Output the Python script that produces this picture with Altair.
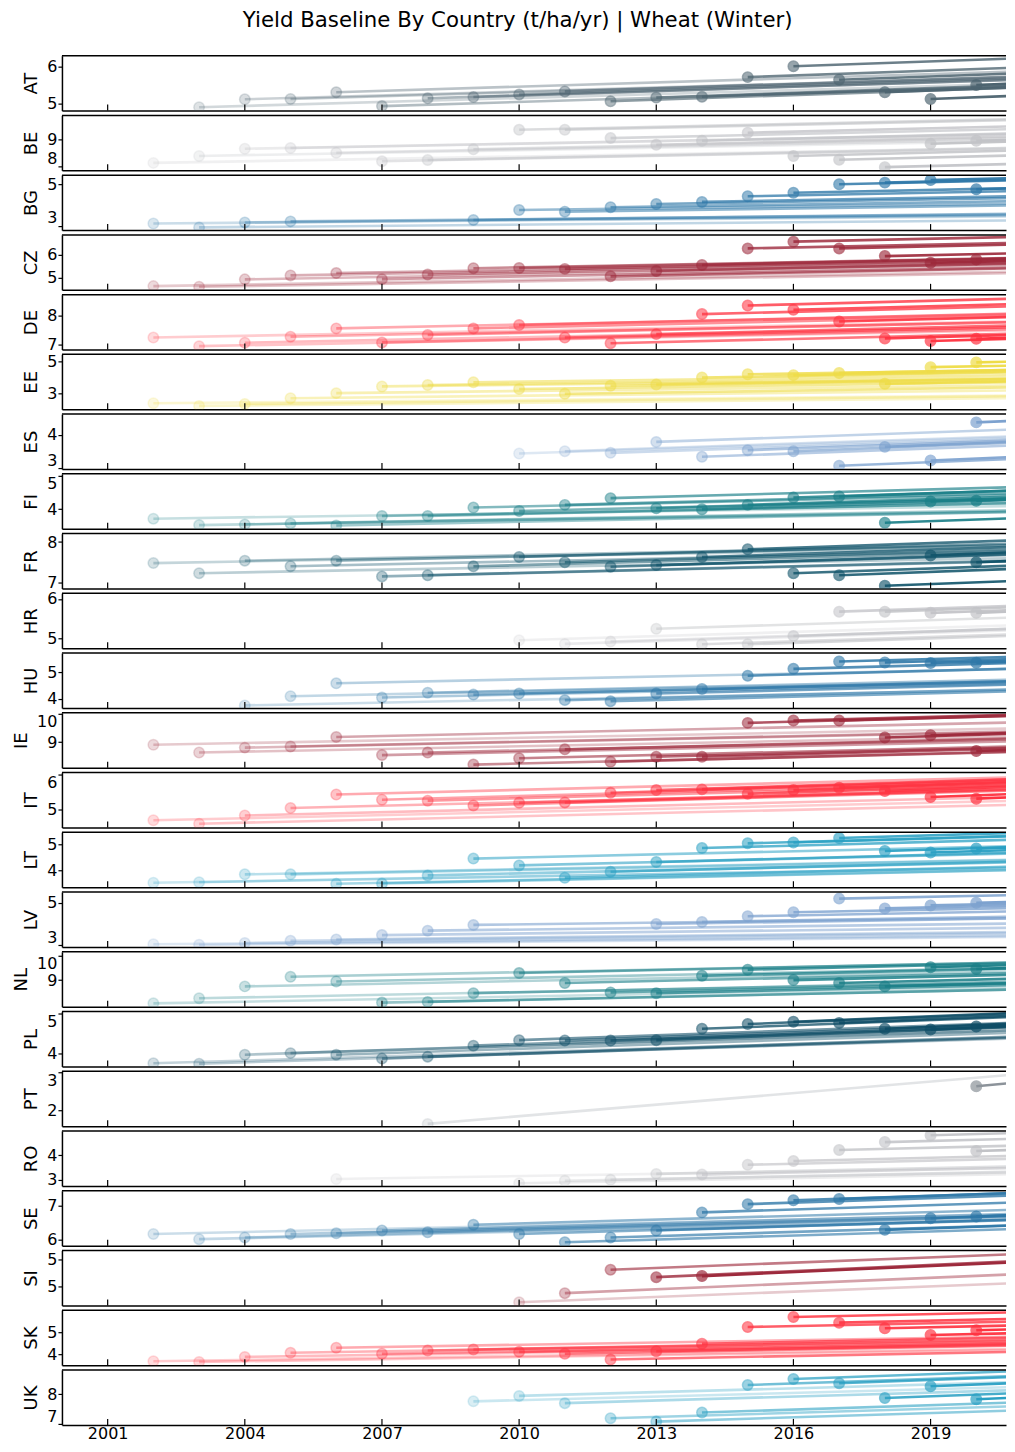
import altair as alt
import pandas as pd

TITLE = "Yield Baseline By Country (t/ha/yr) | Wheat (Winter)"
COUNTRIES = ["AT", "BE", "BG", "CZ", "DE", "EE", "ES", "FI", "FR", "HR", "HU", "IE",
             "IT", "LT", "LV", "NL", "PL", "PT", "RO", "SE", "SI", "SK", "UK"]
X_TICKS = [2001, 2004, 2007, 2010, 2013, 2016, 2019]
ALL_YEARS = list(range(2002, 2021))

COLORS = {
    "AT": "#4d6470", "BE": "#c2c3c7", "BG": "#2f78a8", "CZ": "#9d2a3c", "DE": "#ff3341",
    "EE": "#eedc48", "ES": "#7da2cf", "FI": "#1b7f88", "FR": "#14566c", "HR": "#c2c3c7",
    "HU": "#2f78a8", "IE": "#9d2a3c", "IT": "#ff3341", "LT": "#2aa0c3", "LV": "#7da2cf",
    "NL": "#1b7f88", "PL": "#0f4d66", "PT": "#8c939a", "RO": "#c2c3c7", "SE": "#2f78a8",
    "SI": "#9d2a3c", "SK": "#ff3341", "UK": "#2aa0c3",
}

YEARS = {
    "AT": list(range(2003, 2021)),
    "BE": ALL_YEARS,
    "BG": [2002, 2003, 2004, 2005, 2009, 2010, 2011, 2012, 2013, 2014, 2015, 2016, 2017, 2018, 2019, 2020],
    "CZ": ALL_YEARS, "DE": ALL_YEARS, "EE": ALL_YEARS,
    "ES": list(range(2010, 2021)),
    "FI": ALL_YEARS, "FR": ALL_YEARS,
    "HR": list(range(2010, 2021)),
    "HU": list(range(2004, 2021)),
    "IE": ALL_YEARS, "IT": ALL_YEARS, "LT": ALL_YEARS,
    "LV": [2002, 2003, 2004, 2005, 2006, 2007, 2008, 2009, 2013, 2014, 2015, 2016, 2017, 2018, 2019, 2020],
    "NL": ALL_YEARS, "PL": ALL_YEARS,
    "PT": [2008, 2020],
    "RO": [2006, 2010, 2011, 2012, 2013, 2014, 2015, 2016, 2017, 2018, 2019, 2020],
    "SE": ALL_YEARS,
    "SI": [2010, 2011, 2012, 2013, 2014],
    "SK": ALL_YEARS,
    "UK": list(range(2009, 2021)),
}

VALUES = {
    "AT": [4.91, 5.12, 5.13, 5.31, 4.94, 5.15, 5.18, 5.25, 5.33, 5.07, 5.17, 5.19, 5.71, 6.0, 5.64, 5.31, 5.13, 5.50],
    "BE": [8.12, 8.38, 8.65, 8.68, 8.5, 8.18, 8.23, 8.63, 9.36, 9.36, 9.05, 8.8, 8.95, 9.25, 8.38, 8.24, 7.96, 8.84, 8.95],
    "BG": [3.11, 2.92, 3.16, 3.21, 3.28, 3.76, 3.68, 3.89, 4.05, 4.15, 4.42, 4.59, 5.0, 5.08, 5.2, 4.76],
    "CZ": [4.64, 4.61, 4.93, 5.10, 5.20, 4.94, 5.14, 5.41, 5.42, 5.38, 5.06, 5.29, 5.55, 6.26, 6.55, 6.26, 5.93, 5.64, 5.78],
    "DE": [7.24, 6.94, 7.06, 7.27, 7.56, 7.07, 7.33, 7.56, 7.68, 7.24, 7.04, 7.36, 8.06, 8.36, 8.21, 7.8, 7.21, 7.12, 7.2],
    "EE": [2.42, 2.26, 2.38, 2.73, 3.04, 3.45, 3.54, 3.70, 3.29, 3.0, 3.49, 3.57, 4.0, 4.19, 4.14, 4.27, 3.61, 4.63, 4.92],
    "ES": [3.44, 3.51, 3.46, 3.79, 3.34, 3.54, 3.51, 3.07, 3.64, 3.23, 4.38],
    "FI": [3.72, 3.53, 3.55, 3.58, 3.52, 3.8, 3.8, 4.05, 3.95, 4.13, 4.33, 4.03, 4.0, 4.13, 4.35, 4.38, 3.6, 4.23, 4.25],
    "FR": [7.48, 7.23, 7.54, 7.4, 7.54, 7.15, 7.18, 7.4, 7.63, 7.5, 7.39, 7.43, 7.63, 7.82, 7.23, 7.18, 6.92, 7.67, 7.5],
    "HR": [4.96, 4.87, 4.93, 5.25, 4.86, 4.86, 5.07, 5.68, 5.68, 5.65, 5.65],
    "HU": [3.74, 4.09, 4.58, 4.04, 4.22, 4.15, 4.19, 3.94, 3.9, 4.19, 4.36, 4.87, 5.13, 5.41, 5.37, 5.35, 5.36],
    "IE": [8.91, 8.64, 8.81, 8.85, 9.18, 8.55, 8.64, 8.22, 8.44, 8.75, 8.32, 8.49, 8.49, 9.67, 9.75, 9.75, 9.16, 9.24, 8.69],
    "IT": [4.68, 4.58, 4.82, 5.04, 5.43, 5.28, 5.25, 5.11, 5.19, 5.2, 5.48, 5.56, 5.58, 5.45, 5.56, 5.63, 5.53, 5.36, 5.31],
    "LT": [3.53, 3.55, 3.85, 3.85, 3.49, 3.5, 3.81, 4.45, 4.19, 3.72, 3.95, 4.32, 4.85, 5.03, 5.06, 5.23, 4.74, 4.68, 4.83],
    "LV": [3.05, 3.02, 3.11, 3.21, 3.27, 3.48, 3.69, 3.96, 4.0, 4.1, 4.37, 4.56, 5.2, 4.74, 4.88, 5.0],
    "NL": [8.04, 8.25, 8.74, 9.14, 8.94, 8.07, 8.1, 8.46, 9.29, 8.88, 8.49, 8.46, 9.18, 9.43, 9.0, 8.88, 8.74, 9.53, 9.46],
    "PL": [3.74, 3.73, 3.96, 4.0, 3.96, 3.86, 3.91, 4.19, 4.33, 4.32, 4.32, 4.33, 4.62, 4.74, 4.8, 4.77, 4.62, 4.6, 4.68],
    "PT": [1.65, 2.63],
    "RO": [3.03, 2.86, 2.96, 3.0, 3.24, 3.21, 3.61, 3.76, 4.21, 4.53, 4.81, 4.17],
    "SE": [6.17, 6.02, 6.07, 6.17, 6.19, 6.27, 6.22, 6.44, 6.17, 5.93, 6.07, 6.27, 6.8, 7.04, 7.15, 7.19, 6.29, 6.63, 6.68],
    "SI": [4.7, 4.87, 5.31, 5.17, 5.19],
    "SK": [3.69, 3.66, 3.89, 4.08, 4.31, 4.03, 4.18, 4.23, 4.12, 4.03, 3.77, 4.15, 4.49, 5.26, 5.72, 5.46, 5.2, 4.89, 5.11],
    "UK": [7.76, 7.94, 7.7, 7.2, 7.09, 7.39, 8.3, 8.5, 8.36, 7.87, 8.26, 7.83],
}

# trend (t/ha per year) of the line that starts at each baseline point
SLOPES = {
    "AT": [0.035, 0.035, 0.036, 0.037, 0.037, 0.038, 0.039, 0.039, 0.040, 0.041, 0.041, 0.042, 0.043, 0.043, 0.044, 0.045, 0.045, 0.046],
    "BE": [0.030, 0.031, 0.032, 0.032, 0.033, 0.034, 0.035, 0.036, 0.037, 0.037, 0.038, 0.039, 0.040, 0.041, 0.042, 0.042, 0.043, 0.044, 0.045],
    "BG": [0.018, 0.019, 0.020, 0.021, 0.025, 0.028, 0.031, 0.034, 0.037, 0.040, 0.043, 0.046, 0.050, 0.053, 0.056, 0.060],
    "CZ": [0.033, 0.033, 0.034, 0.035, 0.035, 0.036, 0.037, 0.037, 0.038, 0.039, 0.039, 0.040, 0.041, 0.041, 0.042, 0.043, 0.043, 0.044, 0.045],
    "DE": [0.030, 0.031, 0.032, 0.032, 0.033, 0.034, 0.035, 0.036, 0.037, 0.037, 0.038, 0.039, 0.040, 0.041, 0.042, 0.042, 0.043, 0.044, 0.045],
    "EE": [0.025, 0.027, 0.028, 0.030, 0.032, 0.033, 0.035, 0.037, 0.038, 0.040, 0.042, 0.043, 0.045, 0.047, 0.048, 0.050, 0.052, 0.053, 0.055],
    "ES": [0.045, 0.046, 0.047, 0.048, 0.050, 0.051, 0.053, 0.054, 0.056, 0.058, 0.060],
    "FI": [0.020, 0.022, 0.023, 0.025, 0.027, 0.028, 0.030, 0.032, 0.033, 0.035, 0.037, 0.038, 0.040, 0.042, 0.043, 0.045, 0.047, 0.048, 0.050],
    "FR": [0.020, 0.021, 0.023, 0.024, 0.026, 0.027, 0.028, 0.030, 0.031, 0.032, 0.034, 0.035, 0.037, 0.038, 0.039, 0.041, 0.042, 0.044, 0.045],
    "HR": [0.035, 0.035, 0.036, 0.036, 0.037, 0.037, 0.038, 0.038, 0.039, 0.039, 0.040],
    "HU": [0.035, 0.036, 0.037, 0.038, 0.039, 0.040, 0.041, 0.042, 0.043, 0.044, 0.045, 0.046, 0.047, 0.047, 0.048, 0.049, 0.050],
    "IE": [0.030, 0.031, 0.032, 0.033, 0.034, 0.035, 0.036, 0.037, 0.038, 0.039, 0.040, 0.041, 0.042, 0.043, 0.044, 0.045, 0.046, 0.048, 0.050],
    "IT": [0.030, 0.031, 0.032, 0.033, 0.034, 0.035, 0.036, 0.037, 0.038, 0.039, 0.040, 0.041, 0.042, 0.043, 0.044, 0.045, 0.046, 0.048, 0.050],
    "LT": [0.030, 0.031, 0.033, 0.034, 0.036, 0.037, 0.039, 0.040, 0.042, 0.043, 0.044, 0.046, 0.047, 0.049, 0.050, 0.052, 0.053, 0.054, 0.055],
    "LV": [0.020, 0.021, 0.022, 0.023, 0.024, 0.025, 0.026, 0.027, 0.035, 0.037, 0.039, 0.041, 0.044, 0.046, 0.048, 0.050],
    "NL": [0.035, 0.036, 0.037, 0.037, 0.038, 0.039, 0.040, 0.040, 0.041, 0.042, 0.043, 0.043, 0.044, 0.045, 0.046, 0.047, 0.048, 0.049, 0.050],
    "PL": [0.035, 0.036, 0.037, 0.037, 0.038, 0.039, 0.040, 0.040, 0.041, 0.042, 0.043, 0.043, 0.044, 0.045, 0.046, 0.047, 0.048, 0.049, 0.050],
    "PT": [0.100, 0.110],
    "RO": [0.030, 0.034, 0.035, 0.037, 0.039, 0.040, 0.042, 0.044, 0.045, 0.047, 0.048, 0.050],
    "SE": [0.030, 0.031, 0.032, 0.033, 0.034, 0.035, 0.036, 0.037, 0.038, 0.039, 0.040, 0.041, 0.042, 0.043, 0.044, 0.045, 0.046, 0.048, 0.050],
    "SI": [0.033, 0.036, 0.033, 0.038, 0.038],
    "SK": [0.030, 0.031, 0.032, 0.033, 0.034, 0.035, 0.036, 0.037, 0.038, 0.039, 0.040, 0.041, 0.042, 0.043, 0.044, 0.045, 0.046, 0.048, 0.050],
    "UK": [0.040, 0.042, 0.044, 0.045, 0.047, 0.049, 0.051, 0.053, 0.055, 0.056, 0.058, 0.060],
}

Y_DOMAINS = {
    "AT": [4.82, 6.28], "BE": [7.84, 9.9], "BG": [2.79, 5.44], "CZ": [4.48, 6.84],
    "DE": [6.82, 8.74], "EE": [2.05, 5.41], "ES": [2.97, 4.63], "FI": [3.42, 5.05],
    "FR": [6.85, 8.21], "HR": [4.76, 6.14], "HU": [3.64, 5.73], "IE": [8.11, 10.02],
    "IT": [4.47, 6.07], "LT": [3.36, 5.45], "LV": [2.92, 5.51], "NL": [7.9, 10.17],
    "PL": [3.66, 5.06], "PT": [1.59, 3.02], "RO": [2.75, 4.98], "SE": [5.83, 7.43],
    "SI": [4.64, 5.67], "SK": [3.51, 6.03], "UK": [6.98, 8.8],
}

Y_TICKS = {
    "AT": [5, 6], "BE": [8, 9], "BG": [3, 4, 5], "CZ": [5, 6], "DE": [7, 8],
    "EE": [3, 4, 5], "ES": [3, 4], "FI": [4, 5], "FR": [7, 7.5, 8], "HR": [5, 6],
    "HU": [4, 5], "IE": [9, 10], "IT": [5, 6], "LT": [4, 5], "LV": [3, 4, 5],
    "NL": [9, 10], "PL": [4, 5], "PT": [2, 3], "RO": [3, 4], "SE": [6, 7],
    "SI": [5, 5.5], "SK": [4, 5], "UK": [7, 8],
}

X_DOMAIN = [2000, 2020.65]
LINE_END = 2021.5
W = 945
H = 55
FONT = "DejaVu Sans"


def panel(code, last):
    yrs = YEARS[code]
    vals = VALUES[code]
    slopes = SLOPES[code]
    n = len(yrs)
    rows = []
    for i, (yr, v, s) in enumerate(zip(yrs, vals, slopes)):
        a = 0.25 + 0.75 * (i / (n - 1) if n > 1 else 1.0)
        rows.append({"year": yr, "value": v, "year_end": LINE_END,
                     "value_end": v + s * (LINE_END - yr), "alpha": a})
    df = pd.DataFrame(rows)
    col = COLORS[code]
    xs = alt.Scale(domain=X_DOMAIN, nice=False, zero=False)
    ys = alt.Scale(domain=Y_DOMAINS[code], nice=False, zero=False)
    xaxis = alt.Axis(values=X_TICKS, labels=last, ticks=False, domain=True,
                     domainColor="black", domainWidth=1.5, title=None, format="d",
                     labelFontSize=16, labelPadding=1, labelColor="black", labelFont=FONT,
                     grid=False)
    yaxis = alt.Axis(values=Y_TICKS[code], labelExpr="floor(datum.value)", title=code,
                     titleFontSize=18, titleFontWeight="normal", titleColor="black",
                     titleFont=FONT, titlePadding=6, labelFontSize=16, labelColor="black",
                     labelFont=FONT, labelPadding=1, labelFlush=5, tickSize=4,
                     tickColor="black", tickWidth=1.2, domainColor="black",
                     domainWidth=1.5, grid=False)
    lines = alt.Chart(df).mark_rule(strokeWidth=2.6, clip=True, color=col).encode(
        x=alt.X("year:Q", scale=xs, axis=xaxis),
        x2="year_end:Q",
        y=alt.Y("value:Q", scale=ys, axis=yaxis),
        y2="value_end:Q",
        strokeOpacity=alt.StrokeOpacity("alpha:Q", scale=None),
    )
    points = alt.Chart(df).mark_point(filled=True, size=110, strokeWidth=1.5, clip=True,
                                      fill=col, stroke=col).encode(
        x=alt.X("year:Q"),
        y=alt.Y("value:Q"),
        fillOpacity=alt.FillOpacity("alpha:Q", scale=None),
        strokeOpacity=alt.StrokeOpacity("alpha:Q", scale=None),
    )
    ticks = alt.Chart(pd.DataFrame({"year": X_TICKS})).mark_rule(
        color="black", strokeWidth=1.2).encode(
        x=alt.X("year:Q"), y=alt.value(H), y2=alt.value(H - 6))
    top = alt.Chart(pd.DataFrame({"k": [0]})).mark_rule(
        color="black", strokeWidth=1.5).encode(
        x=alt.value(0), x2=alt.value(W), y=alt.value(0))
    return alt.layer(lines, points, ticks, top).properties(width=W, height=H)


panels = [panel(c, i == len(COUNTRIES) - 1) for i, c in enumerate(COUNTRIES)]

chart = alt.vconcat(
    *panels, spacing=4.8, bounds="flush",
    title=alt.TitleParams(TITLE, fontSize=21.3, font=FONT, fontWeight="normal",
                          color="black", anchor="middle", offset=24, dx=8),
).properties(
    padding={"left": 4, "top": 0, "right": 0, "bottom": 0}
).configure_view(stroke=None).configure_axis(grid=False)

chart.save("out.html", embed_options={"renderer": "svg", "actions": False})
